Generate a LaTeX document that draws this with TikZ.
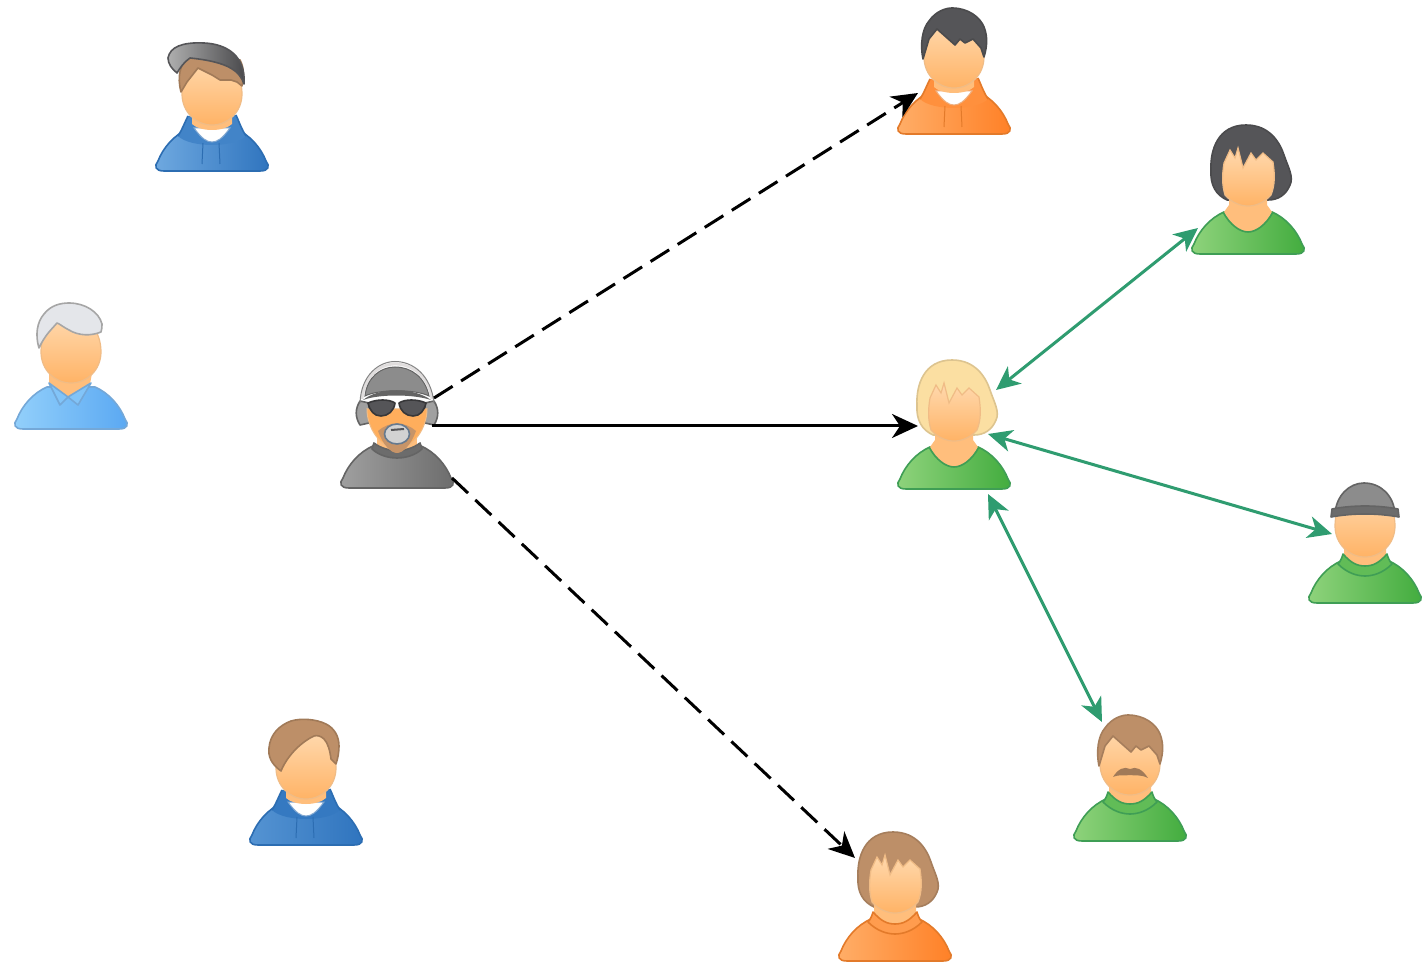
\documentclass[tikz,border=0pt]{standalone}
\usetikzlibrary{arrows.meta,calc}
\definecolor{skinA}{HTML}{FFD9AE}
\definecolor{skinB}{HTML}{FFB366}
\definecolor{skinS}{HTML}{F0BC86}
\definecolor{arrowgreen}{HTML}{2F9C70}
\definecolor{greenA}{HTML}{8FD37C}\definecolor{greenB}{HTML}{42AC3E}\definecolor{greenS}{HTML}{3F9E55}
\definecolor{blueA}{HTML}{6FA9E0}\definecolor{blueB}{HTML}{2F74BE}\definecolor{blueS}{HTML}{2C6DB2}
\definecolor{skyA}{HTML}{93D0FB}\definecolor{skyB}{HTML}{5AA8F2}\definecolor{skyS}{HTML}{74A8D8}
\definecolor{orangeA}{HTML}{FFAE68}\definecolor{orangeB}{HTML}{FF8026}\definecolor{orangeS}{HTML}{E37A2A}
\definecolor{greyA}{HTML}{A0A0A0}\definecolor{greyB}{HTML}{6C6C6C}\definecolor{greyS}{HTML}{646464}
\definecolor{hairblack}{HTML}{555558}
\definecolor{hairbrown}{HTML}{BD8F68}
\definecolor{hairblond}{HTML}{FBDFA2}
\definecolor{hairwhite}{HTML}{E4E6EA}
\definecolor{capgrey}{HTML}{8C8C8C}
\tikzset{
  personbox/.style={draw=none,inner sep=0pt,outer sep=0pt,minimum width=56pt,minimum height=63pt},
  skin/.style={top color=skinA,bottom color=skinB,draw=skinS,line width=.6pt},
  skinflat/.style={fill=skinB!70!skinA},
  outlined/.style={line width=.8pt,line join=round},
  link/.style={line width=1.5pt,black,-{Stealth[length=13pt,width=12pt,inset=4pt]}},
  dashlink/.style={link,dash pattern=on 11pt off 5pt},
  peerlink/.style={line width=1.5pt,arrowgreen,{Stealth[length=12pt,width=11pt,inset=3.5pt]}-{Stealth[length=12pt,width=11pt,inset=3.5pt]}},
}
\newcommand\person[4]{%
  \node[personbox] (#1) at (#2,#3-63) {};
  \begin{scope}[shift={(#2,#3)}]#4\end{scope}}
\newcommand\pbody[3]{\draw[outlined,draw=#3,left color=#1,right color=#2]
  (-48,-1) .. controls (-57,-1) and (-58,-6) .. (-54,-11)
  .. controls (-49,-24) and (-38,-37) .. (-24,-43) -- (24,-43)
  .. controls (38,-37) and (49,-24) .. (54,-11)
  .. controls (58,-6) and (57,-1) .. (48,-1) -- cycle;}
\newcommand\pface{\draw[skin] (-30,-78) .. controls (-30,-60) and (-16,-47) .. (0,-47)
  .. controls (16,-47) and (30,-60) .. (30,-78)
  .. controls (30,-100) and (16,-114) .. (0,-114)
  .. controls (-16,-114) and (-30,-100) .. (-30,-78) -- cycle;}
\newcommand\pfacebob{\draw[skin] (-24,-92) -- (-18,-105) -- (-13,-97) -- (-10,-107) -- (-5,-87)
  -- (3,-102) -- (8,-95) -- (15,-102) -- (25,-93)
  .. controls (27,-80) and (27,-70) .. (23,-60)
  .. controls (16,-52) and (7,-49) .. (0,-49)
  .. controls (-7,-49) and (-16,-52) .. (-23,-60)
  .. controls (-26,-70) and (-26,-80) .. (-24,-92) -- cycle;}
\newcommand\pcrew[1]{\fill[skinflat] (-19,-62) -- (-19,-50) -- (-24,-43) .. controls (-17,-30) and (-8,-23) .. (0,-23)
  .. controls (8,-23) and (17,-30) .. (24,-43) -- (19,-50) -- (19,-62) -- cycle;
  \draw[outlined,draw=#1] (-25,-43) .. controls (-18,-30) and (-8,-23) .. (0,-23)
  .. controls (8,-23) and (18,-30) .. (25,-43);}
\newcommand\pturtle[2]{\fill[skinflat] (-21,-62) -- (-21,-44) -- (0,-34) -- (21,-44) -- (21,-62) -- cycle;
  \draw[outlined,draw=#2,fill=#1] (-22,-50) .. controls (-23,-46) and (-25,-42) .. (-27,-40)
  .. controls (-18,-31) and (-8,-28) .. (0,-28)
  .. controls (8,-28) and (18,-31) .. (27,-40) .. controls (25,-42) and (23,-46) .. (22,-50)
  .. controls (14,-41) and (8,-38) .. (0,-38) .. controls (-8,-38) and (-14,-41) .. (-22,-50) -- cycle;}
\newcommand\phood[2]{\fill[#1] (-24,-56) .. controls (-28,-48) and (-30,-42) .. (-34,-36)
  .. controls (-22,-24) and (22,-24) .. (34,-36) .. controls (30,-42) and (28,-48) .. (24,-57) -- cycle;
  \draw[outlined,draw=#2] (-24,-56) .. controls (-28,-48) and (-30,-42) .. (-34,-36);
  \draw[outlined,draw=#2] (24,-57) .. controls (28,-48) and (30,-42) .. (34,-36);
  \draw[fill=white,draw=#2!60!white,line width=.5pt] (-18,-44) .. controls (-10,-33) and (-5,-30) .. (0,-30)
  .. controls (5,-30) and (10,-33) .. (18,-44) -- cycle;
  \fill[skinflat] (-20,-62) -- (-20,-48) .. controls (-12,-40) and (12,-40) .. (20,-48) -- (20,-62) -- cycle;
  \draw[line width=.5pt,#2] (-9,-29) -- (-10,-8) (7,-29) -- (8,-8);}
\newcommand\pcollar[1]{\fill[skinflat] (-22,-62) -- (-22,-46) -- (-3,-33) -- (19,-46) -- (22,-62) -- cycle;
  \draw[outlined,draw=#1,fill=skyA!70!skyB] (-22,-47) -- (-11,-25) -- (-3,-33) -- cycle;
  \draw[outlined,draw=#1,fill=skyA!70!skyB] (20,-47) -- (7,-25) -- (-3,-33) -- cycle;}
\newcommand\phairbob[1]{\draw[outlined,fill=#1,draw=#1!88!black]
  (-21,-55) .. controls (-32,-60) and (-38,-70) .. (-37,-85)
  .. controls (-38,-105) and (-30,-130) .. (-2,-130)
  .. controls (22,-130) and (32,-112) .. (36,-100)
  .. controls (40,-88) and (46,-78) .. (42,-70)
  .. controls (38,-60) and (30,-55) .. (20,-55) -- cycle;}
\newcommand\phairshort[1]{\draw[outlined,fill=#1,draw=#1!88!black,line join=round]
  (-31,-76) .. controls (-34,-90) and (-32,-106) .. (-25,-114)
  .. controls (-18,-124) and (-8,-127) .. (-2,-127)
  .. controls (14,-127) and (26,-118) .. (30,-108)
  .. controls (34,-98) and (33,-88) .. (30,-78)
  -- (27,-87) -- (19,-96) -- (11,-92) -- (6,-96) -- (1,-90) -- (-8,-98) -- (-17,-106) -- (-25,-96) -- cycle;}
\begin{document}
\begin{tikzpicture}[x=.5pt,y=-.5pt]
\useasboundingbox (0,0) rectangle (1426,962);
\fill[white] (0,0) rectangle (1426,962);

\person{capboy}{212}{172}{%
  \pbody{blueA}{blueB}{blueS}\phood{blueB!70!blueA}{blueS}\pface
  \draw[outlined,fill=hairbrown,draw=hairbrown!85!black] (-31,-80) .. controls (-35,-96) and (-32,-106) .. (-24,-116)
    -- (28,-112) .. controls (32,-105) and (32,-95) .. (30,-86) -- (25,-90) -- (19,-92) -- (8,-92) -- (0,-97) -- (-14,-104) -- (-25,-90) -- cycle;
  \draw[outlined,left color=capgrey!70!white,right color=hairblack!85!black,draw=hairblack]
    (-44,-114) .. controls (-42,-125) and (-30,-130) .. (-8,-129)
    .. controls (16,-128) and (34,-115) .. (32,-88)
    .. controls (28,-100) and (18,-110) .. (-22,-114)
    .. controls (-28,-110) and (-32,-104) .. (-35,-99)
    .. controls (-40,-103) and (-44,-108) .. (-44,-114) -- cycle;}

\person{whitehair}{71}{430}{%
  \pbody{skyA}{skyB}{skyS}\pcollar{skyS}\pface
  \draw[outlined,fill=hairwhite,draw=gray!70!white] (-32,-82) .. controls (-36,-95) and (-34,-108) .. (-27,-116)
    .. controls (-20,-125) and (-10,-127) .. (-2,-127)
    .. controls (14,-127) and (28,-118) .. (31,-106)
    .. controls (31,-103) and (31,-101) .. (30,-98)
    .. controls (20,-94) and (8,-94) .. (-2,-100)
    .. controls (-8,-103) and (-11,-106) .. (-14,-107)
    .. controls (-20,-100) and (-26,-95) .. (-32,-82) -- cycle;}

\person{hacker}{397}{489}{%
  \draw[outlined,fill=greyA,draw=greyS] (-37,-64) .. controls (-42,-72) and (-42,-80) .. (-37,-88) -- (-28,-86) -- (-28,-66) -- cycle;
  \draw[outlined,fill=greyA,draw=greyS] (37,-64) .. controls (42,-72) and (42,-80) .. (37,-88) -- (28,-86) -- (28,-66) -- cycle;
  \pbody{greyA}{greyB}{greyS}
  \fill[skinflat] (-20,-60) -- (20,-60) -- (20,-40) -- (-20,-40) -- cycle;
  \draw[outlined,draw=greyS,fill=greyB] (-23,-46) -- (-25,-40) .. controls (-12,-28) and (12,-28) .. (25,-40) -- (23,-46)
    .. controls (10,-36) and (-10,-36) .. (-23,-46) -- cycle;
  \draw[draw=skinS,fill=skinB!90!orange,line width=.5pt] (-30,-80) .. controls (-30,-60) and (-16,-42) .. (0,-38)
    .. controls (16,-42) and (30,-60) .. (30,-80) -- cycle;
  \fill[hairbrown!85!skinB] (-19,-58) .. controls (-14,-44) and (-6,-36) .. (0,-36)
    .. controls (6,-36) and (14,-44) .. (19,-58) .. controls (8,-68) and (-8,-68) .. (-19,-58) -- cycle;
  \draw[line width=1.4pt,draw=hairwhite!90!hairbrown] (-35,-90) .. controls (-33,-112) and (-18,-125) .. (-2,-125)
    .. controls (16,-125) and (32,-112) .. (35,-90);
  \draw[line width=.5pt,draw=greyS!80!white] (-37,-86) .. controls (-36,-114) and (-18,-127.5) .. (-2,-127.5)
    .. controls (16,-127.5) and (34,-114) .. (37,-86);
  \draw[line width=.5pt,fill=capgrey,draw=greyS] (-32,-93) .. controls (-30,-112) and (-16,-122) .. (-2,-122)
    .. controls (14,-122) and (28,-112) .. (32,-93) .. controls (18,-100) and (-18,-100) .. (-32,-93) -- cycle;
  \fill[greyS] (-34,-89) .. controls (-18,-102) and (16,-102) .. (34,-89)
    .. controls (16,-95) and (-18,-95) .. (-34,-89) -- cycle;
  \draw[outlined,fill=hairblack,draw=hairblack!65!black] (-29,-86) .. controls (-20,-90) and (-8,-90) .. (-2,-86)
    .. controls (-3,-78) and (-9,-73) .. (-16,-73) .. controls (-23,-73) and (-27,-78) .. (-29,-86) -- cycle;
  \draw[outlined,fill=hairblack,draw=hairblack!65!black] (29,-86) .. controls (20,-90) and (8,-90) .. (2,-86)
    .. controls (3,-78) and (9,-73) .. (16,-73) .. controls (23,-73) and (27,-78) .. (29,-86) -- cycle;
  \draw[line width=.8pt,fill=gray!35!white,draw=blueS!30!gray] (0,-55) ellipse (12.5 and 10);
  \draw[line width=1pt,hairblack] (-6,-59) -- (7,-60);}

\person{brownhood}{306}{846}{%
  \pbody{blueA!60!blueB}{blueB}{blueS}\phood{blueB!90!blueA}{blueS}\pface
  \draw[outlined,fill=hairbrown,draw=hairbrown!85!black] (-25,-75) .. controls (-35,-82) and (-38,-90) .. (-37,-98)
    .. controls (-36,-112) and (-26,-121) .. (-15,-125)
    .. controls (-5,-128) and (10,-127) .. (20,-122)
    .. controls (28,-118) and (33,-110) .. (33,-100)
    .. controls (33,-94) and (32,-88) .. (30,-82) -- (25,-87)
    .. controls (24,-95) and (22,-103) .. (18,-107)
    .. controls (15,-110) and (11,-111) .. (8,-110)
    .. controls (-3,-105) and (-18,-92) .. (-25,-75) -- cycle;}

\person{blackhood}{954}{135}{%
  \pbody{orangeA}{orangeB}{orangeS}\phood{orangeB!65!orangeA}{orangeS}\pface\phairshort{hairblack}}

\person{blackbob}{1248}{255}{%
  \phairbob{hairblack}\pbody{greenA}{greenB}{greenS}\pcrew{greenS}\pfacebob}

\person{hub}{954}{490}{%
  \phairbob{hairblond}\pbody{greenA}{greenB}{greenS}\pcrew{greenS}\pfacebob}

\person{greycap}{1365}{604}{%
  \pbody{greenA}{greenB}{greenS}\pturtle{greenB!60!greenA}{greenS}\pface
  \draw[outlined,fill=capgrey,draw=greyS] (-30,-90) .. controls (-29,-108) and (-16,-121) .. (-1,-121)
    .. controls (16,-121) and (29,-108) .. (30,-90) -- cycle;
  \draw[outlined,fill=greyB,draw=greyS] (-33,-95) .. controls (-12,-99) and (12,-99) .. (33,-95)
    -- (34,-87) .. controls (12,-91) and (-12,-91) .. (-34,-87) -- cycle;}

\person{moustache}{1130}{842}{%
  \pbody{greenA}{greenB}{greenS}\pturtle{greenB!60!greenA}{greenS}\pface\phairshort{hairbrown}
  \fill[hairbrown!85!black] (-17,-65) .. controls (-12,-73) and (-6,-76) .. (0,-73)
    .. controls (6,-76) and (12,-73) .. (18,-64)
    .. controls (10,-68) and (4,-66) .. (0,-67)
    .. controls (-4,-66) and (-10,-68) .. (-17,-65) -- cycle;}

\person{orangebob}{895}{962}{%
  \phairbob{hairbrown}\pbody{orangeA}{orangeB}{orangeS}\pturtle{orangeA!60!orangeB}{orangeS}\pfacebob}

\draw[dashlink] ($(hacker)+(37,-28)$) -- ($(blackhood)+(-36,21)$);
\draw[link] ($(hacker)+(35,0)$) -- ($(hub)+(-36,-1)$);
\draw[dashlink] ($(hacker)+(55,52)$) -- ($(orangebob)+(-40,-41)$);
\draw[peerlink] ($(blackbob)+(-50,36)$) -- ($(hub)+(42,-37)$);
\draw[peerlink] ($(hub)+(34,7)$) -- ($(greycap)+(-33,-7)$);
\draw[peerlink] ($(hub)+(34,67)$) -- ($(moustache)+(-28,-57)$);
\end{tikzpicture}
\end{document}
